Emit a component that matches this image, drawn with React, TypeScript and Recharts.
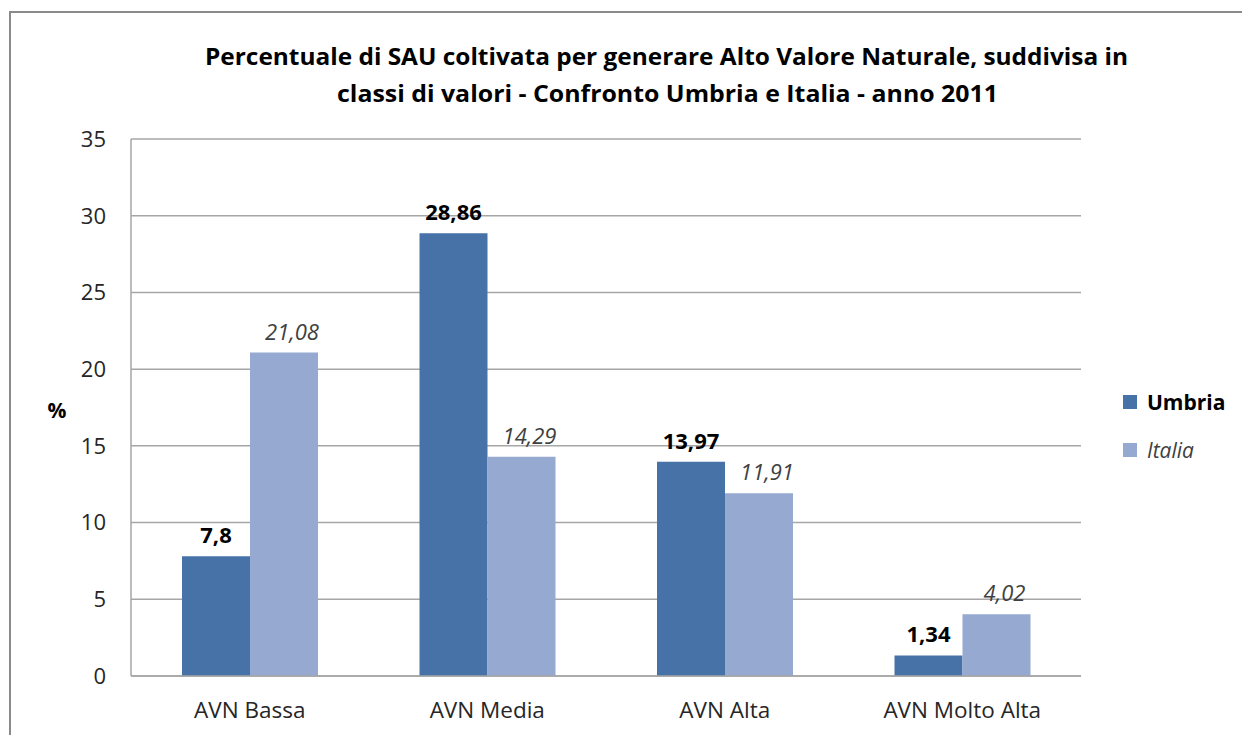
import React from 'react';
import { BarChart, Bar, XAxis, YAxis, CartesianGrid, Legend, LabelList } from 'recharts';

const categories = ['AVN Bassa', 'AVN Media', 'AVN Alta', 'AVN Molto Alta'];
const seriesNames = ['Umbria', 'Italia'];
const umbria = [7.8, 28.86, 13.97, 1.34];
const italia = [21.08, 14.29, 11.91, 4.02];
const yTicks = [0, 5, 10, 15, 20, 25, 30, 35];
const titleLines = [
  'Percentuale di SAU coltivata per generare Alto Valore Naturale, suddivisa in',
  'classi di valori - Confronto Umbria e Italia - anno  2011',
];

const data = categories.map((c, i) => ({ name: c, [seriesNames[0]]: umbria[i], [seriesNames[1]]: italia[i] }));

const FONT = '"Open Sans", "Noto Sans", sans-serif';
const DARK = '#4672A7';
const LIGHT = '#95A9D1';

const fmt = (v: any) => String(v).replace('.', ',');

const LegendContent = (props: any) => {
  const payload = [...(props.payload || [])].sort(
    (a: any, b: any) => seriesNames.indexOf(a.value) - seriesNames.indexOf(b.value)
  );
  return (
    <div style={{ fontFamily: FONT }}>
      {payload.map((p: any, i: number) => {
        const first = p.value === seriesNames[0];
        return (
          <div key={i} style={{ display: 'flex', alignItems: 'center', height: 48 }}>
            <div style={{ width: 14, height: 14, background: p.color, marginRight: 10 }} />
            <span
              style={{
                fontSize: 21,
                color: first ? '#000' : '#404040',
                fontWeight: first ? 700 : 400,
                fontStyle: first ? 'normal' : 'italic',
              }}
            >
              {p.value}
            </span>
          </div>
        );
      })}
    </div>
  );
};

export default function App() {
  return (
    <div style={{ position: 'absolute', left: 0, top: 0, width: 1242, height: 735, overflow: 'hidden', background: '#fff' }}>
      <div
        style={{
          position: 'absolute',
          left: 9,
          top: 11,
          width: 1300,
          height: 800,
          border: '2px solid #8a8a8a',
          boxSizing: 'border-box',
        }}
      />
      <div style={{ position: 'absolute', left: 0, top: 0 }}>
        <BarChart
          width={1242}
          height={735}
          data={data}
          margin={{ top: 139, right: 161, bottom: 29, left: 71 }}
          barGap={0}
        >
          <CartesianGrid vertical={false} stroke="#a6a6a6" strokeWidth={1.5} />
          <XAxis
            dataKey="name"
            height={30}
            axisLine={{ stroke: '#a6a6a6', strokeWidth: 1.5 }}
            tickLine={false}
            tickSize={0}
            tickMargin={26}
            tick={{ fontFamily: FONT, fontSize: 22.5, fill: '#262626' }}
            interval={0}
          />
          <YAxis
            width={60}
            domain={[0, 35]}
            ticks={yTicks}
            interval={0}
            axisLine={{ stroke: '#a6a6a6', strokeWidth: 1.5 }}
            tickLine={false}
            tickSize={0}
            tickMargin={25}
            tick={{ fontFamily: FONT, fontSize: 22, fill: '#262626' }}
          />
          <Legend
            layout="vertical"
            align="center"
            verticalAlign="middle"
            content={<LegendContent />}
            wrapperStyle={{ left: 1123, top: 378, width: 119, height: 100 }}
          />
          <Bar dataKey={seriesNames[0]} fill={DARK} barSize={68} isAnimationActive={false}>
            <LabelList
              dataKey={seriesNames[0]}
              position="top"
              offset={13}
              formatter={fmt}
              style={{ fontFamily: FONT, fontSize: 22, fontWeight: 700, fill: '#000' }}
            />
          </Bar>
          <Bar dataKey={seriesNames[1]} fill={LIGHT} barSize={68} isAnimationActive={false}>
            <LabelList
              dataKey={seriesNames[1]}
              position="top"
              offset={13}
              content={(p: any) => (
                <text
                  x={p.x + p.width / 2 + 8}
                  y={p.y - 13}
                  textAnchor="middle"
                  style={{ fontFamily: FONT, fontSize: 22, fontStyle: 'italic', fill: '#404040' }}
                >
                  {fmt(p.value)}
                </text>
              )}
            />
          </Bar>
        </BarChart>
      </div>
      <svg width={1242} height={735} style={{ position: 'absolute', left: 0, top: 0, pointerEvents: 'none' }}>
        <text
          x={666.5}
          y={65}
          textAnchor="middle"
          textLength={923}
          lengthAdjust="spacingAndGlyphs"
          style={{ fontFamily: FONT, fontSize: 23, fontWeight: 700, fill: '#000' }}
        >
          {titleLines[0]}
        </text>
        <text
          x={667.5}
          y={102}
          textAnchor="middle"
          textLength={661}
          lengthAdjust="spacingAndGlyphs"
          style={{ fontFamily: FONT, fontSize: 23, fontWeight: 700, fill: '#000' }}
        >
          {titleLines[1]}
        </text>
        <text
          x={57}
          y={418}
          textAnchor="middle"
          style={{ fontFamily: FONT, fontSize: 21, fontWeight: 700, fill: '#000' }}
        >
          %
        </text>
      </svg>
    </div>
  );
}
